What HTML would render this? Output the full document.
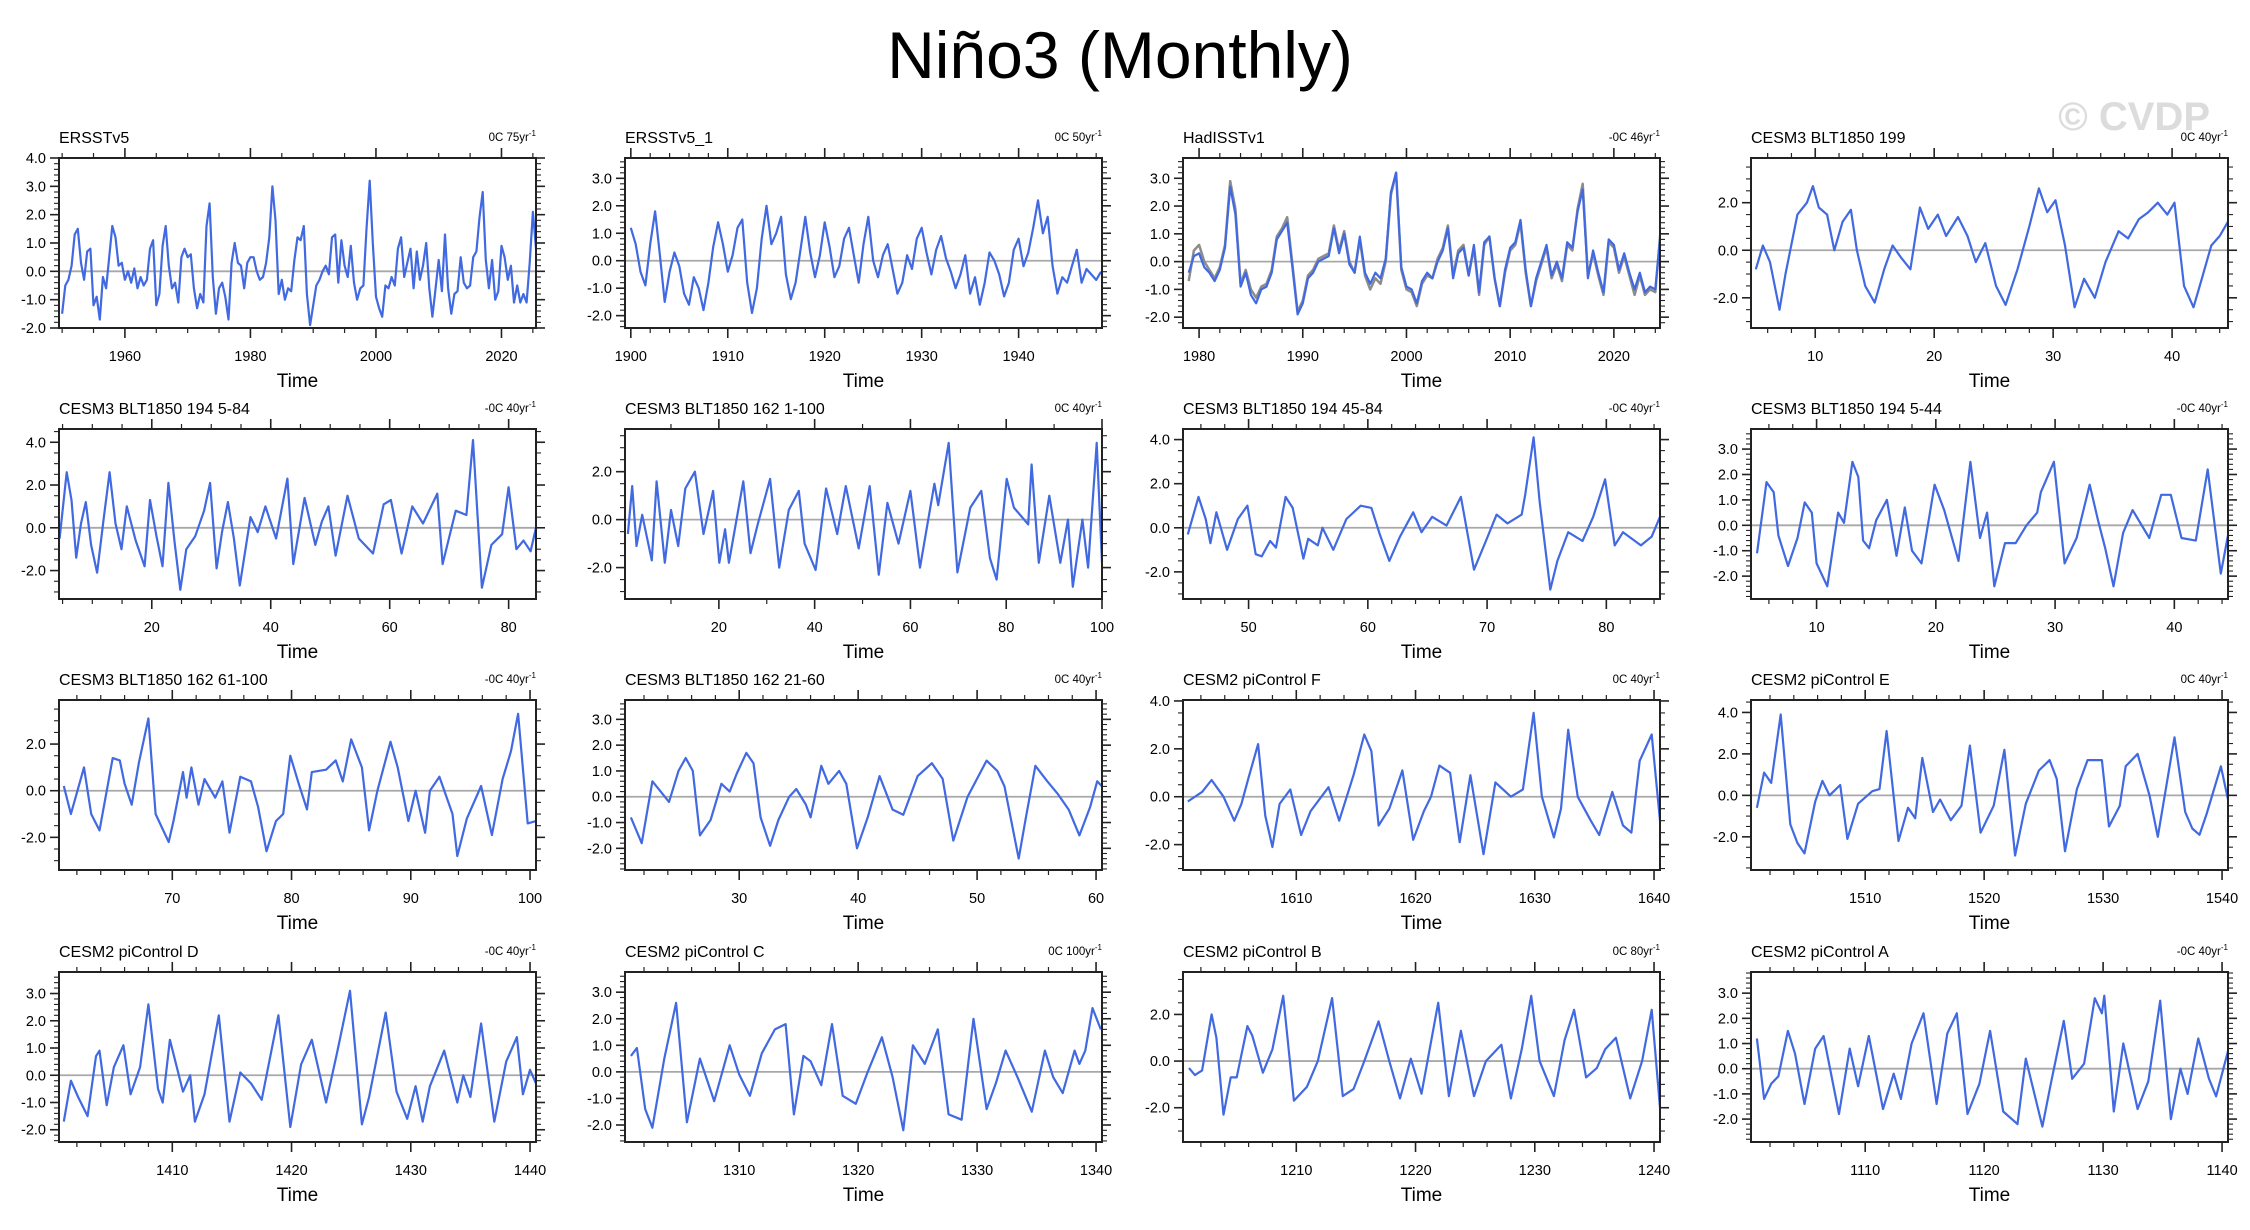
<!DOCTYPE html>
<html><head><meta charset="utf-8">
<style>
html,body{margin:0;padding:0;background:#fff;}
svg{display:block;font-family:"Liberation Sans",Arial,sans-serif;}
</style></head>
<body>
<svg id="chart" width="2250" height="1230" viewBox="0 0 2250 1230" xmlns="http://www.w3.org/2000/svg">
<rect x="0" y="0" width="2250" height="1230" fill="#fff"/>
<text x="1120" y="78" font-size="66" text-anchor="middle" fill="#000">Niño3 (Monthly)</text>
<text x="2210" y="130" font-size="40" font-weight="bold" text-anchor="end" fill="#dcdcdc">© CVDP</text>
<g id="panels"></g>
</svg>
<script>
// ---- Panel data (time, anomaly °C) ----
const p1Values = [-1.5,-0.5,-0.3,0.2,1.3,1.5,0.3,-0.3,0.7,0.8,-1.2,-0.9,-1.7,-0.2,-0.6,0.5,1.6,1.2,0.2,0.3,-0.3,0.0,-0.4,0.1,-0.6,-0.2,-0.5,-0.3,0.8,1.1,-1.2,-0.8,0.9,1.6,0.2,-0.6,-0.4,-1.1,0.5,0.8,0.5,0.6,-0.6,-1.3,-0.8,-1.1,1.6,2.4,-0.2,-1.5,-0.6,-0.4,-0.9,-1.7,0.3,1.0,0.3,0.2,-0.6,0.3,0.5,0.5,0.0,-0.3,-0.2,0.3,1.2,3.0,1.8,-0.8,-0.3,-1.0,-0.6,-0.7,0.4,1.2,1.1,1.6,-0.8,-1.9,-1.2,-0.5,-0.3,0.0,0.2,-0.1,1.2,1.3,-0.4,1.1,0.2,-0.2,0.9,-0.4,-1.0,-0.6,-0.5,1.5,3.2,1.0,-0.9,-1.3,-1.6,-0.5,-0.6,-0.2,-0.5,0.8,1.2,-0.2,0.3,0.8,-0.6,0.7,-0.3,0.2,1.0,-0.6,-1.6,-0.6,0.4,-0.7,1.3,-0.6,-1.5,-0.8,-0.7,0.5,-0.4,-0.6,-0.5,0.5,0.7,1.9,2.8,0.4,-0.6,0.4,-1.0,-0.7,0.9,0.5,-0.3,0.2,-1.1,-0.5,-1.1,-0.8,-1.1,0.3,2.1,0.8,-0.3];
const p1Start = 1950, p1Step = 0.5;

const p2Values = [1.2,0.6,-0.4,-0.9,0.6,1.8,0.2,-1.5,-0.4,0.3,-0.2,-1.2,-1.6,-0.6,-1.0,-1.8,-0.8,0.5,1.4,0.6,-0.4,0.2,1.2,1.5,-0.8,-1.9,-1.0,0.8,2.0,0.6,1.0,1.6,-0.5,-1.4,-0.8,0.4,1.6,0.3,-0.6,0.2,1.4,0.5,-0.6,-0.2,0.8,1.2,0.2,-0.8,0.6,1.6,0.0,-0.6,0.2,0.6,-0.3,-1.2,-0.8,0.2,-0.3,0.8,1.2,0.3,-0.5,0.4,0.9,0.1,-0.4,-1.0,-0.5,0.2,-1.2,-0.6,-1.6,-0.8,0.3,0.0,-0.5,-1.3,-0.8,0.4,0.8,-0.2,0.3,1.2,2.2,1.0,1.6,-0.2,-1.2,-0.6,-0.8,-0.2,0.4,-0.8,-0.3,-0.5,-0.7,-0.4];
const p2Start = 1900, p2Step = 0.5;

const p3Values = [-0.4,0.2,0.3,-0.2,-0.4,-0.7,-0.3,0.5,2.7,1.7,-0.9,-0.4,-1.2,-1.5,-1.0,-0.9,-0.4,0.8,1.1,1.4,-0.2,-1.9,-1.5,-0.6,-0.4,0.0,0.1,0.2,1.2,0.3,1.0,-0.1,-0.4,0.9,-0.4,-0.8,-0.4,-0.6,0.1,2.5,3.2,-0.2,-0.9,-1.0,-1.5,-0.7,-0.4,-0.6,0.0,0.4,1.2,-0.6,0.3,0.5,-0.5,0.6,-1.1,0.7,0.9,-0.6,-1.6,-0.3,0.5,0.7,1.5,-0.3,-1.6,-0.6,0.0,0.6,-0.5,0.0,-0.6,0.7,0.5,1.8,2.6,-0.6,0.4,-0.4,-1.1,0.8,0.6,-0.3,0.3,-0.4,-1.0,-0.4,-1.1,-0.9,-1.0,1.0,2.0,-0.4];
const p3GreyValues = [-0.7,0.4,0.6,0.0,-0.3,-0.6,-0.2,0.6,2.9,1.9,-0.8,-0.3,-1.0,-1.3,-0.9,-0.8,-0.3,0.9,1.2,1.6,-0.1,-1.8,-1.4,-0.5,-0.3,0.1,0.2,0.3,1.3,0.4,1.1,0.0,-0.4,0.8,-0.5,-1.0,-0.6,-0.8,0.0,2.4,3.2,-0.3,-1.0,-1.1,-1.6,-0.8,-0.5,-0.6,0.1,0.5,1.3,-0.5,0.4,0.6,-0.5,0.5,-1.2,0.6,0.9,-0.6,-1.6,-0.4,0.4,0.6,1.4,-0.4,-1.6,-0.7,-0.1,0.5,-0.6,-0.1,-0.7,0.6,0.4,1.9,2.8,-0.5,0.3,-0.5,-1.2,0.7,0.5,-0.4,0.2,-0.5,-1.2,-0.5,-1.2,-1.0,-1.1,1.1,2.1,-0.3];
const p3Start = 1979, p3Step = 0.5;

const p4Times = [5,5.6,6.2,7,7.5,8.5,9.3,9.8,10.3,11,11.6,12.3,13,13.5,14.2,15,15.8,16.5,17.2,18,18.8,19.5,20.3,21,22,22.8,23.5,24.3,25.2,26,27,28,28.8,29.5,30.2,31,31.8,32.6,33.5,34.4,35.5,36.3,37.2,38,38.8,39.6,40.2,41,41.8,42.5,43.3,44,44.7];
const p4Values = [-0.8,0.2,-0.5,-2.5,-1.0,1.5,2.0,2.7,1.8,1.5,0.0,1.2,1.7,0.0,-1.5,-2.2,-0.8,0.2,-0.3,-0.8,1.8,0.9,1.5,0.6,1.4,0.6,-0.5,0.3,-1.5,-2.3,-0.8,1.0,2.6,1.6,2.1,0.2,-2.4,-1.2,-2.0,-0.5,0.8,0.5,1.3,1.6,2.0,1.5,2.0,-1.5,-2.4,-1.2,0.2,0.6,1.2];

const p5Times = [4.5,5.7,6.5,7.3,8.1,8.9,9.8,10.8,11.9,12.9,13.9,14.9,15.8,17.3,18.8,19.7,20.8,21.8,22.8,23.8,24.8,25.8,27.3,28.8,29.8,30.9,31.8,32.8,33.8,34.8,36.6,37.8,39.1,40.9,42.8,43.8,45.7,47.5,48.6,49.7,50.9,52.9,54.8,57.2,59,60.2,62,63.8,65.6,68,68.9,71.1,72.9,74,75.5,77.1,78.9,80,81.3,82.5,83.7,84.6];
const p5Values = [-0.5,2.6,1.3,-1.4,0.2,1.2,-0.8,-2.1,0.4,2.6,0.2,-1.0,1.0,-0.6,-1.8,1.3,-0.4,-1.8,2.1,-0.6,-2.9,-1.0,-0.4,0.8,2.1,-1.9,-0.2,1.2,-0.5,-2.7,0.5,-0.2,1.0,-0.5,2.3,-1.7,1.4,-0.8,0.3,1.0,-1.3,1.5,-0.5,-1.2,1.1,1.3,-1.2,1.0,0.2,1.6,-1.7,0.8,0.6,4.1,-2.8,-0.8,-0.3,1.9,-1.0,-0.6,-1.1,0.0];

const p6Times = [1,1.9,2.8,4,6,7,8.7,10,11.5,13,15,16.8,18.8,20.1,21.3,22.1,25.1,26.6,28.1,30.7,32.6,34.6,36.7,37.9,40.2,42.4,44.7,46.5,49.2,51.5,53.4,55.2,57.5,60,62,65,65.8,68,69.8,72.5,74.8,76.6,78,80.1,81.6,84.6,85.3,86.8,89,91.3,92.9,93.9,95.9,97.1,98.9,100];
const p6Values = [-0.6,1.4,-1.1,0.2,-1.7,1.6,-1.8,0.4,-1.1,1.3,2.0,-0.6,1.2,-1.8,-0.4,-1.8,1.6,-1.4,-0.2,1.7,-2.0,0.4,1.2,-1.0,-2.1,1.3,-0.6,1.4,-1.2,1.4,-2.3,0.7,-1.0,1.2,-2.0,1.5,0.6,3.2,-2.2,0.5,1.2,-1.6,-2.5,1.7,0.5,-0.2,2.3,-1.8,1.0,-1.8,0.0,-2.8,0.0,-2.0,3.2,-1.8];

const p7Times = [44.9,45.8,46.4,46.8,47.3,48.2,49.1,49.9,50.6,51.1,51.8,52.3,53.1,53.7,54.6,55,55.8,56.2,57.1,58.2,59.4,60.3,61,61.8,62.7,63.8,64.5,65.4,66.6,67.8,68.9,69.9,70.8,71.7,72.9,73.2,73.9,74.4,75.3,75.9,76.8,78,78.9,79.9,80.7,81.4,82.9,83.8,84.5];
const p7Values = [-0.3,1.4,0.4,-0.7,0.7,-1.0,0.4,1.0,-1.2,-1.3,-0.6,-0.9,1.4,0.9,-1.4,-0.5,-0.8,0.0,-1.0,0.4,1.0,0.9,-0.3,-1.5,-0.4,0.7,-0.2,0.5,0.1,1.4,-1.9,-0.6,0.6,0.2,0.6,1.5,4.1,1.2,-2.8,-1.5,-0.2,-0.6,0.5,2.2,-0.8,-0.2,-0.8,-0.4,0.5];

const p8Times = [5,5.8,6.4,6.8,7.6,8.4,9,9.6,10,10.9,11.8,12.3,13,13.5,13.9,14.4,15,15.9,16.7,17.4,18,18.8,19.9,20.7,21.9,22.9,23.7,24.3,24.9,25.8,26.7,27.6,28.5,28.8,29.9,30.8,31.8,32.9,33.6,34.2,34.9,35.7,36.5,37.9,38.9,39.7,40.6,41.8,42.8,43.9,44.5];
const p8Values = [-1.1,1.7,1.3,-0.4,-1.6,-0.5,0.9,0.5,-1.5,-2.4,0.5,0.1,2.5,1.9,-0.6,-0.9,0.2,1.0,-1.2,0.7,-1.0,-1.5,1.6,0.6,-1.4,2.5,-0.5,0.5,-2.4,-0.7,-0.7,0.0,0.5,1.3,2.5,-1.5,-0.5,1.6,0.2,-0.9,-2.4,-0.3,0.6,-0.5,1.2,1.2,-0.5,-0.6,2.2,-1.9,-0.4];

const p9Times = [60.9,61.5,62.1,62.6,63.2,63.9,65,65.6,66,66.6,67.2,68,68.6,69.7,70.1,70.9,71.2,71.6,72.2,72.7,73.6,74.2,74.8,75.7,76.6,77.2,77.9,78.7,79.3,79.9,80.6,81.3,81.7,82.9,83.7,84.3,85,85.9,86.5,87.2,88.3,88.9,89.8,90.4,91.2,91.6,92.4,93.5,93.9,94.7,95.9,96.8,97.7,98.4,99,99.8,100.5];
const p9Values = [0.2,-1.0,0.1,1.0,-1.0,-1.7,1.4,1.3,0.3,-0.6,1.2,3.1,-1.0,-2.2,-1.3,0.8,-0.3,1.0,-0.6,0.5,-0.3,0.4,-1.8,0.6,0.4,-0.7,-2.6,-1.3,-1.0,1.5,0.3,-0.8,0.8,0.9,1.3,0.4,2.2,1.0,-1.7,0.0,2.1,1.0,-1.3,0.0,-1.8,0.0,0.6,-1.0,-2.8,-1.2,0.2,-1.9,0.5,1.7,3.3,-1.4,-1.3];

const p10Times = [20.9,21.8,22.7,23.4,24.1,24.9,25.5,26.1,26.7,27.6,28.5,29.2,29.8,30.6,31.2,31.8,32.6,33.3,34.2,34.8,35.6,36,36.9,37.5,38.4,39,39.9,40.8,41.8,42.9,43.8,45,46.2,47.1,48,49.2,50.8,51.7,52.3,52.9,53.5,54.1,54.9,55.9,56.8,57.7,58.6,59.5,60.1,60.5];
const p10Values = [-0.8,-1.8,0.6,0.2,-0.2,1.0,1.5,1.0,-1.5,-0.9,0.5,0.2,0.9,1.7,1.3,-0.8,-1.9,-0.9,0.0,0.3,-0.3,-0.8,1.2,0.5,1.0,0.5,-2.0,-0.8,0.8,-0.5,-0.7,0.8,1.3,0.7,-1.7,0.0,1.4,1.0,0.4,-1.0,-2.4,-0.8,1.2,0.6,0.1,-0.5,-1.5,-0.4,0.6,0.4];

const p11Times = [1600.9,1602.1,1602.9,1603.9,1604.8,1605.4,1606,1606.8,1607.4,1608,1608.6,1609.5,1610.4,1611.2,1612.7,1613.6,1614.8,1615.7,1616.3,1616.9,1617.8,1618.9,1619.8,1620.7,1621.3,1622,1622.9,1623.7,1624.6,1625.7,1626.7,1628,1629,1629.9,1630.6,1631.6,1632.2,1632.8,1633.6,1634.7,1635.4,1636.5,1637.4,1638.1,1638.8,1639.8,1640.5];
const p11Values = [-0.2,0.2,0.7,0.0,-1.0,-0.3,0.8,2.2,-0.8,-2.1,-0.3,0.3,-1.6,-0.6,0.4,-1.0,0.9,2.6,1.9,-1.2,-0.5,1.1,-1.8,-0.6,0.0,1.3,1.0,-1.9,0.9,-2.4,0.6,0.0,0.3,3.5,0.0,-1.7,-0.5,2.8,0.0,-1.0,-1.6,0.2,-1.2,-1.5,1.5,2.6,-1.0];

const p12Times = [1500.9,1501.5,1502.1,1502.9,1503.7,1504.3,1504.9,1505.8,1506.4,1507,1507.9,1508.5,1509.4,1510.6,1511.2,1511.8,1512.8,1513.6,1514.2,1514.8,1515.7,1516.3,1517.2,1518.1,1518.8,1519.7,1520.8,1521.7,1522.6,1523.5,1524.6,1525.5,1526.1,1526.8,1527.8,1528.7,1529.9,1530.5,1531.4,1531.9,1532.9,1533.9,1534.6,1536,1536.9,1537.5,1538.1,1538.7,1539.9,1540.5];
const p12Values = [-0.6,1.1,0.6,3.9,-1.4,-2.3,-2.8,-0.3,0.7,0.0,0.5,-2.1,-0.4,0.2,0.3,3.1,-2.2,-0.6,-1.1,1.8,-0.8,-0.2,-1.2,-0.5,2.4,-1.8,-0.5,2.2,-2.9,-0.4,1.2,1.7,0.8,-2.7,0.3,1.7,1.7,-1.5,-0.5,1.4,2.0,0.0,-2.0,2.8,-0.8,-1.6,-1.9,-0.9,1.4,-0.2];

const p13Times = [1400.9,1401.5,1402.1,1402.9,1403.6,1403.9,1404.5,1405.1,1405.9,1406.5,1407.3,1408,1408.8,1409.2,1409.8,1410.9,1411.5,1411.9,1412.7,1413.9,1414.8,1415.7,1416.6,1417.5,1418.9,1419.9,1420.8,1421.7,1422.9,1423.8,1424.9,1425.9,1426.5,1427.9,1428.8,1429.7,1430.4,1431,1431.6,1432.8,1433.9,1434.4,1435,1435.9,1437,1438,1438.9,1439.4,1440,1440.5];
const p13Values = [-1.7,-0.2,-0.8,-1.5,0.7,0.9,-1.1,0.3,1.1,-0.7,0.3,2.6,-0.5,-1.0,1.3,-0.6,0.0,-1.7,-0.7,2.2,-1.7,0.1,-0.3,-0.9,2.2,-1.9,0.4,1.3,-1.0,0.8,3.1,-1.8,-0.8,2.3,-0.6,-1.6,-0.4,-1.7,-0.4,0.9,-1.0,0.0,-0.8,1.9,-1.7,0.5,1.4,-0.7,0.2,-0.3];

const p14Times = [1300.9,1301.4,1302.1,1302.7,1303.7,1304.7,1305.6,1306.7,1307.9,1309.2,1310,1310.9,1311.9,1313,1313.9,1314.6,1315.4,1316,1316.9,1317.8,1318.7,1319.8,1320.8,1322,1322.9,1323.8,1324.6,1325.6,1326.7,1327.6,1328.7,1329.7,1330.8,1331.6,1332.4,1333.4,1334.6,1335.7,1336.4,1337.2,1338.2,1338.6,1339.1,1339.7,1340.4];
const p14Values = [0.6,0.9,-1.4,-2.1,0.5,2.6,-1.9,0.5,-1.1,1.0,-0.1,-0.9,0.7,1.6,1.8,-1.6,0.6,0.4,-0.5,1.8,-0.9,-1.2,0.0,1.3,-0.2,-2.2,1.0,0.3,1.6,-1.6,-1.8,2.0,-1.4,-0.4,0.8,-0.2,-1.5,0.8,-0.2,-0.8,0.8,0.3,0.8,2.4,1.6];

const p15Times = [1201,1201.5,1202.1,1202.9,1203.3,1203.9,1204.5,1205,1205.9,1206.3,1207.2,1208,1208.9,1209.8,1210.9,1211.8,1213,1213.9,1214.8,1215.7,1216.9,1217.8,1218.7,1219.6,1220.5,1221.9,1222.8,1223.8,1224.9,1225.9,1227.2,1228,1228.9,1229.7,1230.4,1231.6,1232.5,1233.3,1234.3,1235.2,1235.9,1236.8,1238,1239,1239.8,1240.5];
const p15Values = [-0.3,-0.6,-0.4,2.0,1.0,-2.3,-0.7,-0.7,1.5,1.1,-0.5,0.5,2.8,-1.7,-1.1,0.0,2.7,-1.5,-1.2,0.0,1.7,0.0,-1.6,0.1,-1.4,2.5,-1.5,1.3,-1.5,0.0,0.7,-1.6,0.5,2.8,0.0,-1.5,0.9,2.2,-0.7,-0.3,0.5,1.0,-1.6,0.0,2.2,-2.0];

const p16Times = [1100.9,1101.5,1102.1,1102.7,1103.5,1104.1,1104.9,1105.8,1106.5,1107.8,1108.7,1109.4,1110.3,1111.5,1112.4,1113,1113.9,1114.9,1116,1116.9,1117.7,1118.6,1119.6,1120.5,1121.6,1122.8,1123.5,1124.9,1125.6,1126.7,1127.4,1128.4,1129.3,1129.9,1130.1,1130.9,1131.7,1132.9,1133.8,1134.8,1135.7,1136.5,1137.1,1138,1138.9,1139.5,1140.5];
const p16Values = [1.2,-1.2,-0.6,-0.3,1.5,0.6,-1.4,0.8,1.3,-1.8,0.8,-0.7,1.3,-1.6,-0.2,-1.2,1.0,2.2,-1.4,1.4,2.2,-1.8,-0.6,1.5,-1.7,-2.2,0.4,-2.3,-0.6,1.9,-0.4,0.2,2.8,2.2,2.9,-1.7,1.0,-1.6,-0.5,2.7,-2.0,0.0,-1.0,1.2,-0.4,-1.1,0.7];

const panelTitles = ["ERSSTv5","ERSSTv5_1","HadISSTv1","CESM3 BLT1850 199","CESM3 BLT1850 194 5-84","CESM3 BLT1850 162 1-100","CESM3 BLT1850 194 45-84","CESM3 BLT1850 194 5-44","CESM3 BLT1850 162 61-100","CESM3 BLT1850 162 21-60","CESM2 piControl F","CESM2 piControl E","CESM2 piControl D","CESM2 piControl C","CESM2 piControl B","CESM2 piControl A"];
const panelNotes = ["0C 75yr","0C 50yr","-0C 46yr","0C 40yr","-0C 40yr","0C 40yr","-0C 40yr","-0C 40yr","-0C 40yr","0C 40yr","0C 40yr","0C 40yr","-0C 40yr","0C 100yr","0C 80yr","-0C 40yr"];
const xDomains = [[1949.5,2025.5],[1899.4,1948.6],[1978.45,2024.45],[4.6,44.7],[4.4,84.6],[0.4,100],[44.5,84.5],[4.5,44.5],[60.5,100.5],[20.4,60.5],[1600.5,1640.5],[1500.4,1540.5],[1400.5,1440.5],[1300.4,1340.5],[1200.5,1240.5],[1100.4,1140.5]];
const yDomains = [[-2,4],[-2.45,3.74],[-2.39,3.73],[-3.27,3.88],[-3.33,4.62],[-3.31,3.78],[-3.23,4.48],[-2.9,3.79],[-3.4,3.89],[-2.84,3.75],[-3.06,4.04],[-3.6,4.6],[-2.45,3.79],[-2.64,3.76],[-3.47,3.82],[-2.91,3.84]];
const xMajor = [20,10,10,10,20,20,10,10,10,10,10,10,10,10,10,10];
const xMinor = [5,2,2,2,5,10,2,2,2,2,2,2,2,2,2,2];
const yMajor = [1,1,1,2,2,2,2,1,2,1,2,2,1,1,2,1];

// ---- Layout ----
const colLeft = [59,625,1183,1751];
const rowTop = [158,429,700,972];
const W = 477, H = 170;
const NS = "http://www.w3.org/2000/svg";
const root = document.getElementById('panels');

function mk(tag, attrs, parent){
  const e = document.createElementNS(NS, tag);
  for (const k in attrs) e.setAttribute(k, attrs[k]);
  (parent||root).appendChild(e);
  return e;
}

function seriesFor(i){
  switch(i){
    case 0: return [p1Values.map((v,k)=>p1Start+k*p1Step), p1Values];
    case 1: return [p2Values.map((v,k)=>p2Start+k*p2Step), p2Values];
    case 2: return [p3Values.map((v,k)=>p3Start+k*p3Step), p3Values];
    case 3: return [p4Times,p4Values];
    case 4: return [p5Times,p5Values];
    case 5: return [p6Times,p6Values];
    case 6: return [p7Times,p7Values];
    case 7: return [p8Times,p8Values];
    case 8: return [p9Times,p9Values];
    case 9: return [p10Times,p10Values];
    case 10: return [p11Times,p11Values];
    case 11: return [p12Times,p12Values];
    case 12: return [p13Times,p13Values];
    case 13: return [p14Times,p14Values];
    case 14: return [p15Times,p15Values];
    case 15: return [p16Times,p16Values];
  }
}

for (let i=0;i<16;i++){
  const L = colLeft[i%4], T = rowTop[Math.floor(i/4)];
  const [x0,x1] = xDomains[i], [y0,y1] = yDomains[i];
  const sx = t => L + (t-x0)/(x1-x0)*W;
  const sy = v => T + H - (v-y0)/(y1-y0)*H;
  const g = mk('g',{});
  
  
  const clipId = 'clip'+i;
  const cp = mk('clipPath',{id:clipId},g);
  mk('rect',{x:L,y:T-2,width:W,height:H+4},cp);

  const title = mk('text',{x:L, y:T-15, 'font-size':16, fill:'#000'}, g);
  title.textContent = panelTitles[i];
  
  

  const note = mk('text',{x:L+W, y:T-17, 'font-size':11.5, fill:'#000', 'text-anchor':'end'}, g);
  note.textContent = panelNotes[i];
  const sup = mk('tspan',{dy:-5,'font-size':8}, note);
  sup.textContent = '-1';
  
  

  // x ticks
  const mStart = Math.ceil(x0/xMinor[i])*xMinor[i];
  for (let t=mStart; t<=x1+1e-9; t+=xMinor[i]){
    const tt = Math.round(t*1000)/1000;
    const isMaj = Math.abs(tt/xMajor[i]-Math.round(tt/xMajor[i]))<1e-6;
    const len = isMaj?10:5;
    const x = sx(tt);
    mk('line',{x1:x,y1:T+H,x2:x,y2:T+H+len,stroke:'#222','stroke-width':isMaj?1.6:1.2},g);
    mk('line',{x1:x,y1:T,x2:x,y2:T-len,stroke:'#222','stroke-width':isMaj?1.6:1.2},g);
    if (isMaj){
      const lb = mk('text',{x:x,y:T+H+33,'font-size':14.5,'text-anchor':'middle',fill:'#000'},g);
      lb.textContent = String(tt);
      
      
    }
  }
  // y ticks
  const yMin = yMajor[i]===2?0.5:0.2;
  const ys = Math.ceil(y0/yMin-1e-9);
  for (let k=ys; k*yMin<=y1+1e-9; k++){
    const v = Math.round(k*yMin*100)/100;
    const isMaj = Math.abs(v/yMajor[i]-Math.round(v/yMajor[i]))<1e-6;
    const len = isMaj?9:5;
    const y = sy(v);
    mk('line',{x1:L,y1:y,x2:L-len,y2:y,stroke:'#222','stroke-width':isMaj?1.6:1.1},g);
    mk('line',{x1:L+W,y1:y,x2:L+W+len,y2:y,stroke:'#222','stroke-width':isMaj?1.6:1.1},g);
    if (isMaj){
      const lb = mk('text',{x:L-13,y:y+5,'font-size':14.5,'text-anchor':'end',fill:'#000'},g);
      lb.textContent = v.toFixed(1);
      
      
    }
  }
  // zero line
  const zl = mk('line',{x1:L,y1:sy(0),x2:L+W,y2:sy(0),stroke:'#a8a8a8','stroke-width':1.8},g);
  
  

  if (i===2){
    const gp = p3GreyValues.map((v,k)=>(k?'L':'M')+sx(p3Start+k*p3Step).toFixed(1)+','+sy(v).toFixed(1)).join('');
    const gl = mk('path',{d:gp,fill:'none',stroke:'#8c8c8c','stroke-width':2.5,'stroke-linejoin':'round','clip-path':'url(#'+clipId+')'},g);
    
    
  }
  const [ts,vs] = seriesFor(i);
  const d = vs.map((v,k)=>(k?'L':'M')+sx(ts[k]).toFixed(1)+','+sy(v).toFixed(1)).join('');
  const line = mk('path',{d:d,fill:'none',stroke:'#4169e1','stroke-width':2.2,'stroke-linejoin':'round','clip-path':'url(#'+clipId+')'},g);
  
  

  const box = mk('rect',{x:L,y:T,width:W,height:H,fill:'none',stroke:'#222','stroke-width':2},g);
  
  

  const xt = mk('text',{x:L+W/2,y:T+H+59,'font-size':19,'text-anchor':'middle',fill:'#000'},g);
  xt.textContent = 'Time';
  
  
}
</script>
</body></html>
